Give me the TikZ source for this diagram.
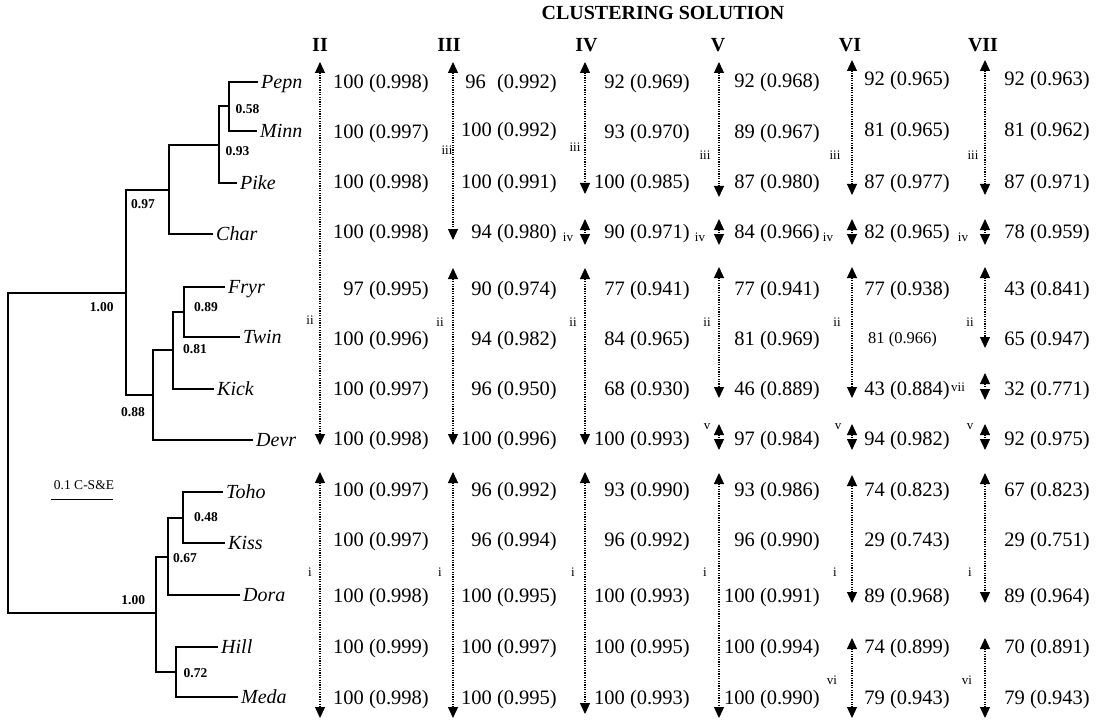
\documentclass[tikz,border=0pt]{standalone}
\usepackage{fontspec}
\setmainfont{Liberation Serif}
\usetikzlibrary{arrows.meta}
\tikzset{
 num/.style={font=\fontsize{20.5}{21}\selectfont, inner sep=0pt, anchor=base east, yshift=-6.9pt},
 leaf/.style={font=\itshape\fontsize{20}{20}\selectfont, inner xsep=3pt, inner ysep=0pt, text height=15pt, text depth=1.8pt, anchor=west},
 supp/.style={font=\bfseries\fontsize{13.5}{14}\selectfont, inner sep=0pt},
 branch/.style={line width=1.1pt},
 clarrow/.style={line width=1.2pt, dash pattern=on 1.2pt off 1.2pt, arrows={Triangle[width=10pt,length=11pt]-Triangle[width=10pt,length=11pt]}},
 armlab/.style={font=\fontsize{13}{13}\selectfont, inner sep=0pt},
 colhead/.style={font=\bfseries\fontsize{20}{20}\selectfont, inner sep=0pt},
}
\begin{document}
\begin{tikzpicture}[x=1pt,y=-1pt]
\useasboundingbox (0,0) rectangle (1108,722);

% ---------- tree leaves ----------
\node[leaf] (pepn) at (258,82) {Pepn};
\node[leaf] (minn) at (257,131) {Minn};
\node[leaf] (pike) at (237,183) {Pike};
\node[leaf] (char) at (213,234) {Char};
\node[leaf] (fryr) at (225,287) {Fryr};
\node[leaf] (twin) at (240,337) {Twin};
\node[leaf] (kick) at (214,389) {Kick};
\node[leaf] (devr) at (253,440) {Devr};
\node[leaf] (toho) at (223,492) {Toho};
\node[leaf] (kiss) at (225,543) {Kiss};
\node[leaf] (dora) at (240,595) {Dora};
\node[leaf] (hill) at (218,647) {Hill};
\node[leaf] (meda) at (238,697) {Meda};

% ---------- internal nodes ----------
\coordinate (a) at (229,106);
\coordinate (b) at (219,145);
\coordinate (c) at (169,190);
\coordinate (d) at (184,312);
\coordinate (e) at (173,350);
\coordinate (f) at (153,395);
\coordinate (g) at (126,293);
\coordinate (h) at (183,518);
\coordinate (k) at (168,557);
\coordinate (m) at (176,672);
\coordinate (n) at (156,613);
\coordinate (root) at (8,453);

\draw[branch] (a) |- (pepn.west);
\draw[branch] (a) |- (minn.west);
\draw[branch] (b) |- (a);
\draw[branch] (b) |- (pike.west);
\draw[branch] (c) |- (b);
\draw[branch] (c) |- (char.west);
\draw[branch] (d) |- (fryr.west);
\draw[branch] (d) |- (twin.west);
\draw[branch] (e) |- (d);
\draw[branch] (e) |- (kick.west);
\draw[branch] (f) |- (e);
\draw[branch] (f) |- (devr.west);
\draw[branch] (g) |- (c);
\draw[branch] (g) |- (f);
\draw[branch] (h) |- (toho.west);
\draw[branch] (h) |- (kiss.west);
\draw[branch] (k) |- (h);
\draw[branch] (k) |- (dora.west);
\draw[branch] (m) |- (hill.west);
\draw[branch] (m) |- (meda.west);
\draw[branch] (n) |- (k);
\draw[branch] (n) |- (m);
\draw[branch] (root) |- (g);
\draw[branch] (root) |- (n);

% ---------- support values ----------
\node[supp] (s058) at (247.5,109) {0.58};
\node[supp] (s093) at (237.5,151) {0.93};
\node[supp] (s097) at (143,204) {0.97};
\node[supp] (s100a) at (101.7,307.5) {1.00};
\node[supp] (s089) at (206,307.5) {0.89};
\node[supp] (s081) at (195,349) {0.81};
\node[supp] (s088) at (133,412.5) {0.88};
\node[supp] (s048) at (206,517) {0.48};
\node[supp] (s067) at (185,558) {0.67};
\node[supp] (s100b) at (133.3,600.5) {1.00};
\node[supp] (s072) at (195.5,673) {0.72};

% ---------- scale bar ----------
\node[font=\fontsize{13.5}{14}\selectfont, inner sep=0pt] (scaletxt) at (84,485) {0.1 C-S\&E};
\coordinate (sb1) at (50.7,499.3);
\coordinate (sb2) at (112.7,499.3);
\draw[line width=1.1pt] (sb1) -- (sb2);

% ---------- headers ----------
\node[colhead] (title) at (663,12.5) {CLUSTERING SOLUTION};
\node[colhead] (hII) at (320,45) {II};
\node[colhead] (hIII) at (449,45) {III};
\node[colhead] (hIV) at (586.5,45) {IV};
\node[colhead] (hV) at (718,45) {V};
\node[colhead] (hVI) at (850,45) {VI};
\node[colhead] (hVII) at (983,45) {VII};

% ---------- cluster arrows ----------
\foreach \x/\t/\b/\lab/\lx/\ly [count=\i] in {
320/62/445/ii/310/320,
320/472/718/i/310/572,
453/62/240/iii/447/150,
453/268/445/ii/440/322,
453/472/718/i/440/572,
585/62/194/iii/575/147,
585/219/245/iv/568/237,
585/268/445/ii/573/322,
585/472/714/i/573/572,
719/62/197/iii/705/155,
719/219/245/iv/700/237,
719/267/398/ii/707/322,
719/424/450/v/707/427,
719/473/718/i/705/572,
852/60/195/iii/835/155,
852/219/245/iv/828/237,
852/267/398/ii/837/322,
852/424/450/v/838/427,
852/475/603/i/835/572,
852/638/718/vi/832/680,
985/60/195/iii/973/155,
985/219/245/iv/963/237,
985/267/348/ii/970/322,
985/373/400/vii/958/387,
985/424/450/v/970/427,
985/473/603/i/970/572,
985/638/718/vi/967/680}
{
 \coordinate (at\i) at (\x,\t);
 \coordinate (ab\i) at (\x,\b);
 \draw[clarrow] (at\i) -- (ab\i);
 \node[armlab] (al\i) at (\lx,\ly) {\lab};
}

% ---------- values ----------
\foreach \y/\t [count=\r] in {82/100 (0.998), 132/100 (0.997), 182/100 (0.998), 232/100 (0.998), 289/97 (0.995), 339/100 (0.996), 389/100 (0.997), 439/100 (0.998), 490/100 (0.997), 540/100 (0.997), 596/100 (0.998), 647/100 (0.999), 698/100 (0.998)}
 \node[num] (cII\r) at (429,\y) {\t};

\foreach \y/\t [count=\r] in {82/96\hspace{0.55em}(0.992), 130/100 (0.992), 182/100 (0.991), 232/94 (0.980), 289/90 (0.974), 339/94 (0.982), 389/96 (0.950), 439/100 (0.996), 490/96 (0.992), 540/96 (0.994), 596/100 (0.995), 647/100 (0.997), 698/100 (0.995)}
 \node[num] (cIII\r) at (557,\y) {\t};

\foreach \y/\t [count=\r] in {82/92 (0.969), 132/93 (0.970), 182/100 (0.985), 232/90 (0.971), 289/77 (0.941), 339/84 (0.965), 389/68 (0.930), 439/100 (0.993), 490/93 (0.990), 540/96 (0.992), 596/100 (0.993), 647/100 (0.995), 698/100 (0.993)}
 \node[num] (cIV\r) at (690,\y) {\t};

\foreach \y/\t [count=\r] in {81/92 (0.968), 132/89 (0.967), 182/87 (0.980), 232/84 (0.966), 289/77 (0.941), 339/81 (0.969), 389/46 (0.889), 439/97 (0.984), 490/93 (0.986), 540/96 (0.990), 596/100 (0.991), 647/100 (0.994), 698/100 (0.990)}
 \node[num] (cV\r) at (820,\y) {\t};

\foreach \y/\t [count=\r] in {79/92 (0.965), 130/81 (0.965), 182/87 (0.977), 232/82 (0.965), 289/77 (0.938), 389/43 (0.884), 439/94 (0.982), 490/74 (0.823), 540/29 (0.743), 596/89 (0.968), 647/74 (0.899), 698/79 (0.943)}
 \node[num] (cVI\r) at (950,\y) {\t};
\node[font=\fontsize{16.5}{17}\selectfont, inner sep=0pt, anchor=base west, yshift=-5.6pt] (cVIsmall) at (868,338) {81 (0.966)};

\foreach \y/\t [count=\r] in {79/92 (0.963), 130/81 (0.962), 182/87 (0.971), 232/78 (0.959), 289/43 (0.841), 339/65 (0.947), 389/32 (0.771), 439/92 (0.975), 490/67 (0.823), 540/29 (0.751), 596/89 (0.964), 647/70 (0.891), 698/79 (0.943)}
 \node[num] (cVII\r) at (1090,\y) {\t};
\end{tikzpicture}
\end{document}
